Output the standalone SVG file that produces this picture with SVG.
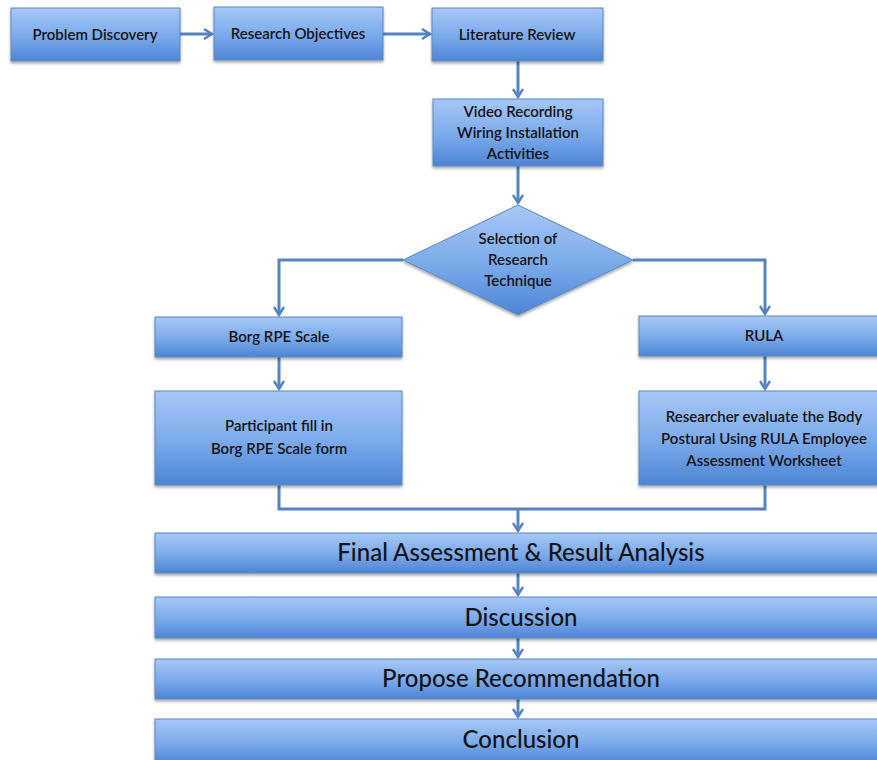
<svg xmlns="http://www.w3.org/2000/svg" width="877" height="760" viewBox="0 0 877 760">
  <defs>
    <linearGradient id="boxFill" x1="0" y1="0" x2="0" y2="1">
      <stop offset="0" stop-color="#a6c8f7"/>
      <stop offset="0.55" stop-color="#7aa9ea"/>
      <stop offset="1" stop-color="#4d84d4"/>
    </linearGradient>
    <filter id="shadow" x="-5%" y="-10%" width="110%" height="130%">
      <feDropShadow dx="0" dy="2" stdDeviation="1.5" flood-color="#000" flood-opacity="0.35"/>
    </filter>
    <marker id="chev" viewBox="0 0 12 12" refX="10" refY="6" markerWidth="12" markerHeight="12" markerUnits="userSpaceOnUse" orient="auto">
      <path d="M2,1 L10,6 L2,11" fill="none" stroke="#5583c0" stroke-width="2.4" stroke-linejoin="miter"/>
    </marker>
  </defs>
  <style>
    .box { fill: url(#boxFill); stroke: #5b87c0; stroke-width: 1; filter: url(#shadow); }
    .t { font-family: Lato, "Open Sans", "Liberation Sans", sans-serif; font-size: 15px; font-weight: 600; fill: #141414; text-anchor: middle; }
    .big { font-size: 24px; font-weight: 500; }
    .link { fill: none; stroke: #5583c0; stroke-width: 3; }
    .arr { marker-end: url(#chev); }
  </style>
  <rect width="877" height="760" fill="#ffffff"/>

  <g id="connectors">
    <path class="link arr" d="M180,34 H212"/>
    <path class="link arr" d="M383,34 H430"/>
    <path class="link arr" d="M518,61 V97"/>
    <path class="link arr" d="M518,166 V203"/>
    <path class="link arr" d="M403,260 H279 V315"/>
    <path class="link arr" d="M633,260 H765 V314"/>
    <path class="link arr" d="M279,357 V389"/>
    <path class="link arr" d="M765,356 V389"/>
    <path class="link" d="M279,485 V509 H765 V485"/>
    <path class="link arr" d="M518,509 V531"/>
    <path class="link arr" d="M518,573 V595"/>
    <path class="link arr" d="M518,638 V657"/>
    <path class="link arr" d="M518,699 V717"/>
  </g>

  <g id="problem-discovery">
    <rect class="box" x="11" y="8" width="169" height="53"/>
    <text class="t" x="95" y="40">Problem Discovery</text>
  </g>
  <g id="research-objectives">
    <rect class="box" x="214" y="7" width="169" height="53"/>
    <text class="t" x="298" y="39">Research Objectives</text>
  </g>
  <g id="literature-review">
    <rect class="box" x="432" y="8" width="171" height="53"/>
    <text class="t" x="517" y="40">Literature Review</text>
  </g>
  <g id="video-recording">
    <rect class="box" x="433" y="99" width="170" height="67"/>
    <text class="t" x="518" y="117">Video Recording</text>
    <text class="t" x="518" y="138">Wiring Installation</text>
    <text class="t" x="518" y="159">Activities</text>
  </g>
  <g id="selection">
    <polygon class="box" points="518,205 633,260 518,315 403,260"/>
    <text class="t" x="518" y="244">Selection of</text>
    <text class="t" x="518" y="265">Research</text>
    <text class="t" x="518" y="286">Technique</text>
  </g>
  <g id="borg-rpe">
    <rect class="box" x="155" y="317" width="247" height="40"/>
    <text class="t" x="279" y="342">Borg RPE Scale</text>
  </g>
  <g id="rula">
    <rect class="box" x="639" y="316" width="243" height="40"/>
    <text class="t" x="764" y="341">RULA</text>
  </g>
  <g id="participant">
    <rect class="box" x="155" y="391" width="247" height="94"/>
    <text class="t" x="279" y="431">Participant fill in</text>
    <text class="t" x="279" y="454">Borg RPE Scale form</text>
  </g>
  <g id="researcher">
    <rect class="box" x="639" y="391" width="243" height="94"/>
    <text class="t" x="764" y="422">Researcher evaluate the Body</text>
    <text class="t" x="764" y="444">Postural Using RULA Employee</text>
    <text class="t" x="764" y="466">Assessment Worksheet</text>
  </g>
  <g id="final-assessment">
    <rect class="box" x="155" y="533" width="727" height="40"/>
    <text class="t big" x="521" y="561">Final Assessment &amp; Result Analysis</text>
  </g>
  <g id="discussion">
    <rect class="box" x="155" y="597" width="727" height="41"/>
    <text class="t big" x="521" y="626">Discussion</text>
  </g>
  <g id="propose-recommendation">
    <rect class="box" x="155" y="659" width="727" height="40"/>
    <text class="t big" x="521" y="687">Propose Recommendation</text>
  </g>
  <g id="conclusion">
    <rect class="box" x="155" y="719" width="727" height="45"/>
    <text class="t big" x="521" y="748">Conclusion</text>
  </g>
</svg>
